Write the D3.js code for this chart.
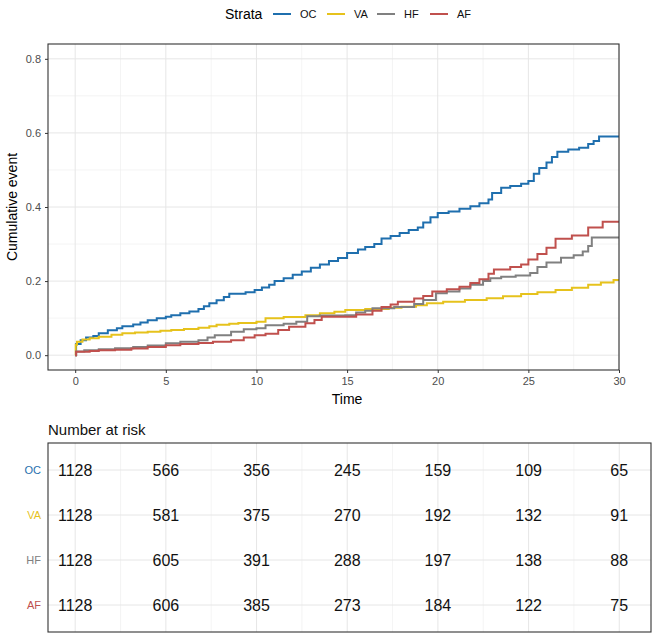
<!DOCTYPE html>
<html>
<head>
<meta charset="utf-8">
<script src="https://cdn.jsdelivr.net/npm/d3@7"></script>
<style>
  body { margin: 0; background: #fff; }
  text { font-family: "Liberation Sans", Arial, sans-serif; }
</style>
</head>
<body>
<div id="chart"></div>
<script>
// strata and colours
const strata = ["OC", "VA", "HF", "AF"];
const colors = ["#1f6fae", "#e6c21c", "#808080", "#c0504d"];

// cumulative event curves, [time, value]
const ocSteps = [[0,0],[0.05,0.03],[0.3,0.04],[0.6,0.048],[1.0,0.052],[1.3,0.059],[1.8,0.067],[2.3,0.073],[2.6,0.078],[3.2,0.083],[3.6,0.088],[4.0,0.094],[4.5,0.1],[5.0,0.104],[5.3,0.108],[5.8,0.113],[6.3,0.118],[6.8,0.125],[7.1,0.132],[7.4,0.14],[7.8,0.148],[8.2,0.157],[8.5,0.166],[9.4,0.17],[9.9,0.176],[10.3,0.183],[10.7,0.19],[11.0,0.2],[11.5,0.208],[12.0,0.217],[12.5,0.226],[13.0,0.236],[13.5,0.245],[14.0,0.254],[14.5,0.262],[15.0,0.276],[15.6,0.285],[16.0,0.292],[16.5,0.3],[16.9,0.315],[17.4,0.322],[17.9,0.33],[18.4,0.338],[18.9,0.345],[19.2,0.358],[19.6,0.372],[20.0,0.384],[20.6,0.388],[21.2,0.395],[21.8,0.402],[22.3,0.41],[22.8,0.42],[23.0,0.438],[23.5,0.452],[24.0,0.457],[24.6,0.463],[25.0,0.47],[25.3,0.49],[25.6,0.505],[26.0,0.52],[26.3,0.535],[26.6,0.549],[27.2,0.555],[27.8,0.56],[28.3,0.57],[28.6,0.578],[28.9,0.59],[30,0.59]];
const vaSteps = [[0,0],[0.03,0.028],[0.1,0.036],[0.4,0.042],[0.8,0.046],[1.3,0.05],[2.0,0.055],[2.6,0.059],[3.3,0.061],[4.0,0.063],[4.7,0.066],[5.3,0.068],[6.0,0.071],[6.8,0.074],[7.4,0.078],[7.8,0.082],[8.5,0.085],[9.0,0.087],[10.0,0.09],[10.5,0.1],[11.5,0.103],[12.7,0.108],[13.5,0.113],[14.3,0.117],[14.9,0.122],[16.0,0.125],[17.3,0.128],[18.0,0.131],[18.8,0.135],[19.4,0.14],[20.3,0.144],[21.5,0.149],[22.7,0.154],[23.6,0.159],[24.6,0.165],[25.5,0.17],[26.5,0.176],[27.4,0.182],[28.3,0.19],[29.0,0.196],[29.7,0.203],[30,0.203]];
const hfSteps = [[0,0],[0.05,0.01],[0.5,0.013],[1.3,0.016],[2.2,0.019],[3.2,0.022],[4.0,0.026],[5.0,0.032],[5.8,0.036],[6.8,0.04],[7.3,0.048],[7.7,0.054],[8.6,0.063],[9.3,0.07],[10.0,0.073],[10.5,0.081],[11.5,0.085],[12.2,0.09],[12.8,0.105],[13.5,0.107],[14.9,0.108],[15.5,0.115],[16.0,0.12],[16.4,0.127],[17.6,0.13],[18.7,0.138],[19.2,0.149],[19.9,0.167],[20.5,0.172],[21.2,0.18],[21.8,0.19],[22.5,0.2],[22.9,0.208],[23.5,0.212],[24.3,0.215],[25.1,0.222],[25.5,0.238],[26.0,0.25],[26.8,0.263],[27.5,0.27],[28.0,0.28],[28.3,0.295],[28.5,0.318],[30,0.318]];
const afSteps = [[0,0],[0.05,0.009],[0.8,0.011],[1.3,0.013],[2.2,0.015],[3.1,0.018],[4.0,0.022],[5.0,0.027],[5.8,0.03],[6.8,0.033],[7.6,0.036],[8.6,0.04],[9.3,0.048],[9.9,0.054],[10.5,0.058],[11.2,0.068],[11.8,0.077],[12.7,0.086],[13.2,0.095],[13.6,0.104],[15.5,0.11],[16.4,0.12],[16.9,0.13],[17.4,0.137],[17.8,0.144],[18.7,0.153],[19.2,0.16],[19.7,0.172],[20.5,0.178],[21.2,0.185],[21.8,0.195],[22.3,0.205],[22.8,0.22],[23.1,0.231],[24.0,0.238],[24.6,0.245],[25.0,0.258],[25.5,0.273],[26.0,0.29],[26.5,0.314],[27.4,0.323],[28.3,0.345],[29.1,0.36],[30,0.36]];
const curves = [ocSteps, vaSteps, hfSteps, afSteps];

// number at risk table
const riskTimes = [0, 5, 10, 15, 20, 25, 30];
const riskOC = [1128, 566, 356, 245, 159, 109, 65];
const riskVA = [1128, 581, 375, 270, 192, 132, 91];
const riskHF = [1128, 605, 391, 288, 197, 138, 88];
const riskAF = [1128, 606, 385, 273, 184, 122, 75];
const riskRows = [riskOC, riskVA, riskHF, riskAF];

const xTicks = [0, 5, 10, 15, 20, 25, 30];
const yTicks = [0, 0.2, 0.4, 0.6, 0.8];

const W = 655, H = 637;
const svg = d3.select("#chart").append("svg")
  .attr("width", W).attr("height", H)
  .style("display", "block");

const grid = "#e6e6e6", minorGrid = "#efefef", tickCol = "#4d4d4d";

// ---- top plot ----
const P = {left: 48, top: 44, right: 619, bottom: 370};
const x = d3.scaleLinear().domain([-1.5, 30]).range([P.left, P.right]);
const y = d3.scaleLinear().domain([-0.04, 0.84]).range([P.bottom, P.top]);

const plot = svg.append("g");
const minorX = [2.5, 7.5, 12.5, 17.5, 22.5, 27.5];
const minorY = [0.1, 0.3, 0.5, 0.7];
plot.append("g").selectAll("line").data(minorX).join("line")
  .attr("x1", d => x(d)).attr("x2", d => x(d))
  .attr("y1", P.top).attr("y2", P.bottom)
  .attr("stroke", minorGrid).attr("stroke-width", 0.7);
plot.append("g").selectAll("line").data(minorY).join("line")
  .attr("x1", P.left).attr("x2", P.right)
  .attr("y1", d => y(d)).attr("y2", d => y(d))
  .attr("stroke", minorGrid).attr("stroke-width", 0.7);
plot.append("g").selectAll("line").data(xTicks).join("line")
  .attr("x1", d => x(d)).attr("x2", d => x(d))
  .attr("y1", P.top).attr("y2", P.bottom)
  .attr("stroke", grid).attr("stroke-width", 1);
plot.append("g").selectAll("line").data(yTicks).join("line")
  .attr("x1", P.left).attr("x2", P.right)
  .attr("y1", d => y(d)).attr("y2", d => y(d))
  .attr("stroke", grid).attr("stroke-width", 1);

const line = d3.line()
  .x(d => x(d[0])).y(d => y(d[1]))
  .curve(d3.curveStepAfter);
plot.append("g").selectAll("path").data(curves).join("path")
  .attr("d", line)
  .attr("fill", "none")
  .attr("stroke", (d, i) => colors[i])
  .attr("stroke-width", 2);

plot.append("rect")
  .attr("x", P.left).attr("y", P.top)
  .attr("width", P.right - P.left).attr("height", P.bottom - P.top)
  .attr("fill", "none").attr("stroke", "#333").attr("stroke-width", 1.1);

// axes
const xAxis = d3.axisBottom(x).tickValues(xTicks).tickSize(3).tickPadding(4);
const yAxis = d3.axisLeft(y).tickValues(yTicks).tickSize(3).tickPadding(4)
  .tickFormat(d3.format(".1f"));
const styleAxis = g => {
  g.select(".domain").remove();
  g.selectAll(".tick line").attr("stroke", "#333");
  g.selectAll(".tick text").attr("fill", tickCol)
    .style("font-size", "11px").style("font-family", "Liberation Sans, Arial, sans-serif");
};
svg.append("g").attr("transform", `translate(0,${P.bottom})`).call(xAxis).call(styleAxis);
svg.append("g").attr("transform", `translate(${P.left},0)`).call(yAxis).call(styleAxis);

svg.append("text").text("Time")
  .attr("x", (x(0) + x(30)) / 2).attr("y", 404)
  .attr("text-anchor", "middle").style("font-size", "14px");
svg.append("text").text("Cumulative event")
  .attr("transform", `translate(17,${(P.top + P.bottom) / 2}) rotate(-90)`)
  .attr("text-anchor", "middle").style("font-size", "14px");

// legend
const leg = svg.append("g").attr("transform", "translate(0,14)");
leg.append("text").text("Strata").attr("x", 225).attr("y", 5).style("font-size", "14px");
const legX = [273, 327, 377, 430];
const legG = leg.selectAll(".lg").data(strata).join("g")
  .attr("transform", (d, i) => `translate(${legX[i]},0)`);
legG.append("line").attr("x1", 0).attr("x2", 18).attr("y1", 0).attr("y2", 0)
  .attr("stroke", (d, i) => colors[i]).attr("stroke-width", 2);
legG.append("text").text(d => d).attr("x", 27).attr("y", 4)
  .style("font-size", "11px").attr("fill", "#111");

// ---- risk table ----
const T = {left: 48, top: 443, right: 651, bottom: 632};
const tx = d3.scaleLinear().domain([-1.5, 31.75]).range([T.left, T.right]);
const ty = d3.scalePoint().domain(strata).range([T.top, T.bottom]).padding(0.6);

svg.append("text").text("Number at risk")
  .attr("x", 48).attr("y", 435).style("font-size", "15px").attr("fill", "#111");

const tab = svg.append("g");
tab.selectAll(".tv").data(d3.range(0, 31.75, 2.5)).join("line")
  .attr("x1", d => tx(d)).attr("x2", d => tx(d))
  .attr("y1", T.top).attr("y2", T.bottom)
  .attr("stroke", d => d % 5 === 0 ? grid : minorGrid)
  .attr("stroke-width", d => d % 5 === 0 ? 1 : 0.7);
tab.selectAll(".th").data(strata).join("line")
  .attr("x1", T.left).attr("x2", T.right)
  .attr("y1", d => ty(d)).attr("y2", d => ty(d))
  .attr("stroke", grid).attr("stroke-width", 1);

riskRows.forEach((row, i) => {
  tab.append("g").selectAll("text").data(row).join("text")
    .text(d => d)
    .attr("x", (d, j) => tx(riskTimes[j]))
    .attr("y", ty(strata[i]))
    .attr("dy", "0.36em")
    .attr("text-anchor", "middle")
    .style("font-size", "16px").attr("fill", "#111");
});

tab.append("rect")
  .attr("x", T.left).attr("y", T.top)
  .attr("width", T.right - T.left).attr("height", T.bottom - T.top)
  .attr("fill", "none").attr("stroke", "#333").attr("stroke-width", 1.1);

svg.append("g").selectAll("text").data(strata).join("text")
  .text(d => d)
  .attr("x", 41).attr("y", d => ty(d)).attr("dy", "0.36em")
  .attr("text-anchor", "end")
  .style("font-size", "11px")
  .attr("fill", (d, i) => colors[i]);
</script>
</body>
</html>
